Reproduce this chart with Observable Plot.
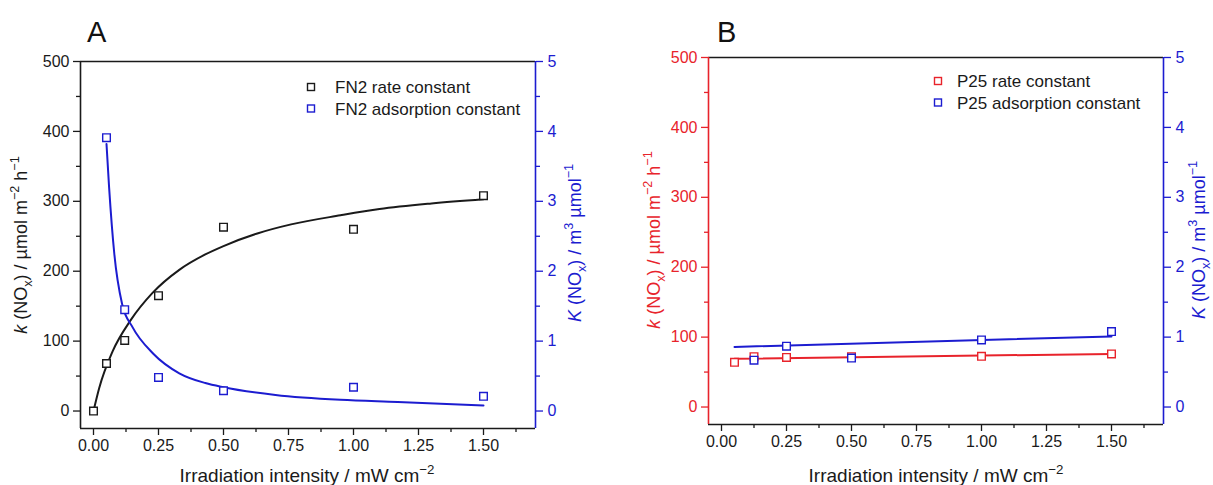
<!DOCTYPE html>
<html><head><meta charset="utf-8">
<script src="https://cdn.jsdelivr.net/npm/d3@7"></script>
<script src="https://cdn.jsdelivr.net/npm/@observablehq/plot@0.6"></script>
<style>
body{margin:0;background:#fff;}
#wrap{display:flex;width:1213px;height:485px;overflow:hidden;}
#wrap svg{overflow:visible;flex:none;}
</style></head><body><div id="wrap"></div>
<script>
// ---------- data: panel A (FN2) ----------
const xFN2k = [0, 0.05, 0.12, 0.25, 0.5, 1.0, 1.5];
const kFN2 = [0, 68, 101, 165, 263, 260, 308];
const xFN2K = [0.05, 0.12, 0.25, 0.5, 1.0, 1.5];
const KFN2 = [3.91, 1.45, 0.48, 0.29, 0.34, 0.21];
// fitted curves
const fitFN2kX = [0, 0.022, 0.073, 0.143, 0.227, 0.33, 0.43, 0.5, 0.63, 0.76, 0.95, 1.1, 1.3, 1.5];
const fitFN2kY = [0, 33, 85, 130, 169, 202, 224, 236, 254, 267, 280, 289, 297, 303];
const fitFN2KX = [0.05, 0.06, 0.08, 0.11, 0.15, 0.23, 0.33, 0.43, 0.5, 0.7, 0.95, 1.17, 1.5];
const fitFN2KY = [3.82, 3.2, 2.25, 1.53, 1.2, 0.82, 0.54, 0.4, 0.34, 0.23, 0.16, 0.13, 0.08];

// ---------- data: panel B (P25) ----------
const xP25k = [0.05, 0.125, 0.25, 0.5, 1.0, 1.5];
const kP25 = [64, 72, 71, 72, 72.5, 76];
const xP25K = [0.125, 0.25, 0.5, 1.0, 1.5];
const KP25 = [0.67, 0.87, 0.70, 0.96, 1.08];
const fitP25kX = [0.05, 1.5];
const fitP25kY = [69, 76];
const fitP25KX = [0.05, 1.5];
const fitP25KY = [0.86, 1.01];

// ---------- ticks ----------
const majorX = [0, 0.25, 0.5, 0.75, 1, 1.25, 1.5];
const minorX = [0.125, 0.375, 0.625, 0.875, 1.125, 1.375, 1.625];
const majorY = [0, 100, 200, 300, 400, 500];
const minorY = [50, 150, 250, 350, 450];
const xDomain = [-0.05, 1.7];
const yDomain = [-25, 500];
const KFACTOR = 100; // right axis (K) = left axis / 100

const BLUE = "#1c1cd0", RED = "#e8232b", BLACK = "#1a1a1a";
const FONT = "'Liberation Sans', Arial, Helvetica, sans-serif";

const rows = (xs, ys, f = 1) => xs.map((x, i) => ({x, y: ys[i] * f}));

function richText(parent, parts, {x, y, size, color, rotate = 0, anchor = "middle"}) {
  const t = parent.append("text")
    .attr("transform", `translate(${x},${y}) rotate(${rotate})`)
    .attr("text-anchor", anchor)
    .attr("fill", color)
    .style("font-family", FONT)
    .style("font-size", size + "px");
  let shift = 0;
  for (const [s, kind] of parts) {
    let target = 0, fs = size, style = "normal";
    if (kind === "sup") { target = -0.42 * size; fs = size * 0.7; }
    if (kind === "sub") { target = 0.28 * size; fs = size * 0.7; }
    if (kind === "i") style = "italic";
    t.append("tspan").attr("dy", target - shift).style("font-size", fs + "px")
      .style("font-style", style).text(s);
    shift = target;
  }
  return t;
}

function panel(cfg) {
  const plot = Plot.plot({
    width: cfg.width, height: 485,
    marginLeft: cfg.ml, marginRight: cfg.mr, marginTop: cfg.mt, marginBottom: cfg.mb,
    x: {domain: xDomain, label: null},
    y: {domain: yDomain, label: null},
    style: {fontFamily: FONT, fontSize: "16px", background: "white", color: BLACK},
    marks: [
      Plot.axisX(majorX, {tickSize: 7, tickPadding: 4, tickFormat: d => d.toFixed(2), label: null, strokeWidth: 1.3, color: BLACK}),
      Plot.axisX(minorX, {tickSize: 4, tickFormat: () => "", label: null, strokeWidth: 1.3, color: BLACK}),
      Plot.axisY(majorY, {anchor: "left", tickSize: 7, tickPadding: 4, label: null, strokeWidth: 1.3, color: cfg.leftColor}),
      Plot.axisY(minorY, {anchor: "left", tickSize: 4, tickFormat: () => "", label: null, strokeWidth: 1.3, color: cfg.leftColor}),
      Plot.axisY(majorY, {anchor: "right", tickSize: 7, tickPadding: 5, tickFormat: d => d / KFACTOR, label: null, strokeWidth: 1.3, color: BLUE}),
      Plot.axisY(minorY, {anchor: "right", tickSize: 4, tickFormat: () => "", label: null, strokeWidth: 1.3, color: BLUE}),
      Plot.ruleY([yDomain[1]], {stroke: BLACK, strokeWidth: 1.6}),
      Plot.ruleY([yDomain[0]], {stroke: BLACK, strokeWidth: 1.6}),
      Plot.ruleX([xDomain[0]], {stroke: cfg.leftColor, strokeWidth: 1.6}),
      Plot.ruleX([xDomain[1]], {stroke: BLUE, strokeWidth: 1.6}),
      ...cfg.lines.map(l => Plot.line(l.data, {x: "x", y: "y", stroke: l.color, strokeWidth: 2, curve: "monotone-x"})),
      ...cfg.dots.map(d => Plot.dot(d.data, {x: "x", y: "y", symbol: "square", r: 4.3, stroke: d.color, fill: "white", strokeWidth: 1.4}))
    ]
  });
  const svg = d3.select(plot);
  svg.append("text").attr("x", cfg.letter.x).attr("y", 42).attr("text-anchor", "start").text(cfg.letter.t)
    .style("font-family", FONT).style("font-size", "29px").attr("fill", "#111");
  // left title
  richText(svg, [["k", "i"], [" (NO"], ["x", "sub"], [") / \u00b5mol m"], ["\u22122", "sup"], [" h"], ["\u22121", "sup"]],
    {x: cfg.lt.x, y: cfg.lt.y, size: 18, color: cfg.leftColor, rotate: -90});
  // right title
  richText(svg, [["K", "i"], [" (NO"], ["x", "sub"], [") / m"], ["3", "sup"], [" \u00b5mol"], ["\u22121", "sup"]],
    {x: cfg.rt.x, y: cfg.rt.y, size: 18, color: BLUE, rotate: -90});
  // x title
  richText(svg, [["Irradiation intensity / mW cm"], ["\u22122", "sup"]],
    {x: cfg.xt.x, y: 482, size: 19, color: BLACK});
  // legend
  cfg.legend.forEach((e, i) => {
    const cy = cfg.leg.y + i * 21.5;
    svg.append("rect").attr("x", cfg.leg.x - 3.5).attr("y", cy - 3.5).attr("width", 7).attr("height", 7)
      .attr("fill", "white").attr("stroke", e.color).attr("stroke-width", 1.4);
    svg.append("text").attr("x", cfg.leg.x + cfg.leg.dx).attr("y", cy + 6).attr("text-anchor", "start").text(e.label)
      .style("font-family", FONT).style("font-size", "17px").attr("fill", BLACK);
  });
  return plot;
}

const wrap = document.getElementById("wrap");
wrap.append(panel({
  width: 606, ml: 80, mr: 71, mt: 61, mb: 57, leftColor: BLACK,
  letter: {x: 87, t: "A"},
  lt: {x: 27, y: 245}, rt: {x: 581, y: 243}, xt: {x: 307},
  leg: {x: 311, y: 87, dx: 24},
  legend: [{label: "FN2 rate constant", color: BLACK}, {label: "FN2 adsorption constant", color: BLUE}],
  lines: [
    {data: rows(fitFN2kX, fitFN2kY), color: BLACK},
    {data: rows(fitFN2KX, fitFN2KY, KFACTOR), color: BLUE}
  ],
  dots: [
    {data: rows(xFN2k, kFN2), color: BLACK},
    {data: rows(xFN2K, KFN2, KFACTOR), color: BLUE}
  ]
}));
wrap.append(panel({
  width: 607, ml: 102, mr: 50, mt: 57, mb: 61, leftColor: RED,
  letter: {x: 111, t: "B"},
  lt: {x: 54, y: 240}, rt: {x: 599, y: 240}, xt: {x: 330},
  leg: {x: 332, y: 81, dx: 19},
  legend: [{label: "P25 rate constant", color: RED}, {label: "P25 adsorption constant", color: BLUE}],
  lines: [
    {data: rows(fitP25kX, fitP25kY), color: RED},
    {data: rows(fitP25KX, fitP25KY, KFACTOR), color: BLUE}
  ],
  dots: [
    {data: rows(xP25k, kP25), color: RED},
    {data: rows(xP25K, KP25, KFACTOR), color: BLUE}
  ]
}));
</script></body></html>
